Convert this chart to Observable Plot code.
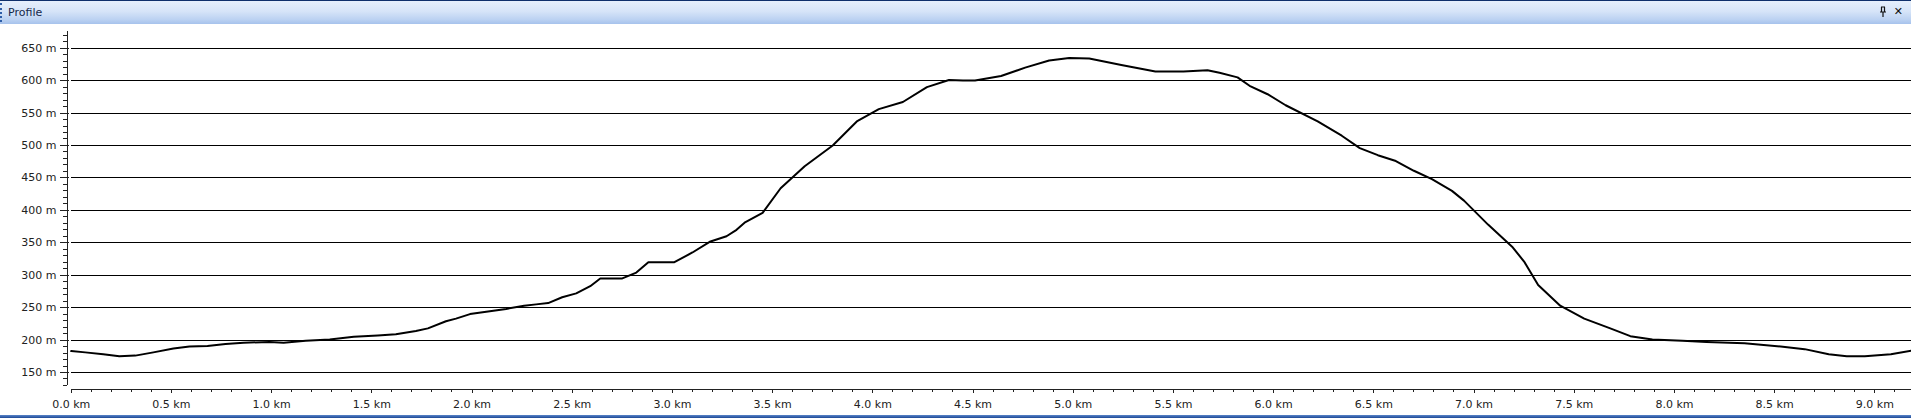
<!DOCTYPE html>
<html>
<head>
<meta charset="utf-8">
<script src="https://cdn.jsdelivr.net/npm/d3@7"></script>
<script src="https://cdn.jsdelivr.net/npm/@observablehq/plot@0.6"></script>
<style>
  html, body { margin: 0; padding: 0; background: #fff; width: 1911px; height: 419px; overflow: hidden; }
  #header {
    position: relative; height: 24px; border-top: 1px solid #0f2f6b;
    background: linear-gradient(#e6effc 0%, #d6e4f8 45%, #bcd2f2 80%, #a6c2ec 100%);
    font-family: "DejaVu Sans", Verdana, sans-serif; font-size: 11px; color: #15284b;
    box-sizing: border-box;
  }
  #header .grip { position: absolute; left: 0; top: 2px; bottom: 2px; width: 0; border-left: 2px dotted #2e5ea8; }
  #header .title { position: absolute; left: 8px; top: 5px; }
  #header .icons { position: absolute; right: 8px; top: 4px; display: flex; gap: 7px; align-items: center; }
  #footer { height: 3px; background: linear-gradient(#5b86c9, #1c4896); }
</style>
</head>
<body>
<div id="header">
  <div class="grip"></div>
  <div class="title">Profile</div>
  <div class="icons">
    <svg width="8" height="11" viewBox="0 0 8 11"><path d="M2 1h4M2.5 1v5M5.5 1v5M1 6h6M4 6v5" stroke="#111" stroke-width="1.2" fill="none"/></svg>
    <span style="font-weight:bold;font-size:11px;color:#111;">✕</span>
  </div>
</div>
<div id="chart"></div>
<div id="footer"></div>
<script>
// Distance along route (km)
const distanceKm = [0, 0.07, 0.16, 0.24, 0.32, 0.41, 0.51, 0.59, 0.68, 0.77, 0.86, 0.99, 1.06, 1.17, 1.29, 1.41, 1.53, 1.62, 1.72, 1.78, 1.87, 1.92, 1.99, 2.08, 2.17, 2.26, 2.32, 2.38, 2.45, 2.52, 2.59, 2.64, 2.75, 2.82, 2.88, 3.01, 3.10, 3.19, 3.27, 3.32, 3.36, 3.45, 3.54, 3.66, 3.80, 3.92, 4.03, 4.15, 4.27, 4.38, 4.45, 4.51, 4.64, 4.76, 4.88, 4.98, 5.08, 5.24, 5.41, 5.55, 5.67, 5.73, 5.82, 5.88, 5.97, 6.06, 6.22, 6.34, 6.43, 6.52, 6.61, 6.70, 6.79, 6.89, 6.95, 7.07, 7.19, 7.25, 7.32, 7.43, 7.55, 7.68, 7.78, 7.89, 8.04, 8.16, 8.35, 8.53, 8.65, 8.77, 8.86, 8.95, 9.08, 9.19];
// Elevation (m)
const elevationM = [183, 181, 178, 175, 176, 181, 187, 190, 191, 194, 196, 197, 196, 199, 201, 205, 207, 209, 214, 218, 229, 233, 240, 244, 248, 253, 255, 257, 266, 272, 283, 295, 295, 304, 320, 320, 335, 352, 360, 370, 381, 396, 434, 468, 500, 537, 556, 567, 590, 601, 600, 600, 607, 620, 631, 635, 634, 624, 614, 614, 616, 612, 605, 592, 579, 562, 537, 515, 496, 485, 476, 461, 448, 430, 415, 378, 344, 321, 285, 253, 233, 218, 206, 201, 199, 197, 195, 190, 186, 178, 175, 175, 178, 184];

const yMajorTicks = [150, 200, 250, 300, 350, 400, 450, 500, 550, 600, 650];
const xMajorTicks = [0, 0.5, 1, 1.5, 2, 2.5, 3, 3.5, 4, 4.5, 5, 5.5, 6, 6.5, 7, 7.5, 8, 8.5, 9];
const yDomain = [130.4, 675.7];
const xDomain = [0, 9.183];

const data = distanceKm.map((km, i) => ({km, m: elevationM[i]}));
const yMinor = d3.range(130, 676, 10);
const xMinor = d3.range(0, 9.19, 0.1);

const chart = Plot.plot({
  width: 1911,
  height: 391,
  marginLeft: 70.7,
  marginRight: 0,
  marginTop: 7,
  marginBottom: 30.3,
  x: {domain: xDomain},
  y: {domain: yDomain},
  style: {fontFamily: "DejaVu Sans, Verdana, sans-serif", fontSize: "11px", color: "#222", background: "#fff", overflow: "visible"},
  marks: [
    Plot.ruleY(yMajorTicks, {stroke: "#000", strokeWidth: 1, shapeRendering: "crispEdges"}),
    Plot.line(data, {x: "km", y: "m", stroke: "#000", strokeWidth: 2, strokeLinejoin: "round"}),
    // y axis
    Plot.ruleX([xDomain[0]], {dx: -4, stroke: "#222", shapeRendering: "crispEdges"}),
    Plot.axisY({ticks: yMinor, tickSize: 3.4, dx: -4, tickFormat: () => "", label: null, stroke: "#222", shapeRendering: "crispEdges"}),
    Plot.axisY({ticks: yMajorTicks, tickSize: 9, dx: -1.7, tickPadding: 4, tickFormat: d => d + " m", label: null, fontSize: 11, stroke: "#222", shapeRendering: "crispEdges"}),
    // x axis
    Plot.ruleY([yDomain[0]], {dy: 4.3, stroke: "#222", shapeRendering: "crispEdges"}),
    Plot.axisX({ticks: xMinor, tickSize: 2.5, dy: 4.3, tickFormat: () => "", label: null, stroke: "#222", shapeRendering: "crispEdges"}),
    Plot.axisX({ticks: xMajorTicks, tickSize: 4, dy: 4.3, tickPadding: 6.5, tickFormat: d => d.toFixed(1) + " km", label: null, fontSize: 11, stroke: "#222", shapeRendering: "crispEdges"})
  ]
});
document.getElementById("chart").appendChild(chart);
</script>
</body>
</html>
